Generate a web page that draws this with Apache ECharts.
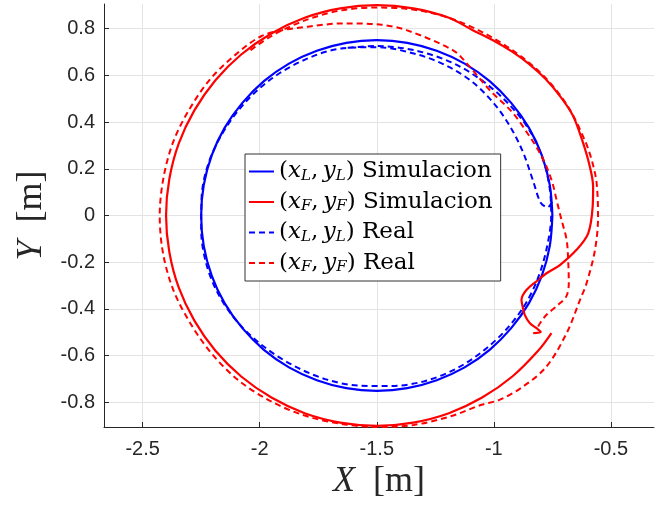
<!DOCTYPE html>
<html><head><meta charset="utf-8">
<script src="https://cdn.jsdelivr.net/npm/echarts@6/dist/echarts.min.js"></script>
<style>html,body{margin:0;padding:0;background:#fff}#c{width:658px;height:506px}</style>
</head><body><div id="c"></div>
<script>
// axis ticks
const xTicks = [-2.5, -2, -1.5, -1, -0.5];
const yTicks = [-0.8, -0.6, -0.4, -0.2, 0, 0.2, 0.4, 0.6, 0.8];
const xRange = [-2.665, -0.316];
const yRange = [-0.905, 0.905];

// (x_L, y_L) Simulacion
const leaderSim = [
  [-0.750,0.000],[-0.761,0.130],[-0.795,0.257],[-0.850,0.375],[-0.926,0.482],[-1.018,0.575],
  [-1.125,0.650],[-1.244,0.705],[-1.370,0.739],[-1.500,0.750],[-1.630,0.739],[-1.756,0.705],
  [-1.875,0.650],[-1.982,0.575],[-2.074,0.482],[-2.150,0.375],[-2.205,0.257],[-2.239,0.130],
  [-2.250,0.000],[-2.239,-0.130],[-2.205,-0.257],[-2.150,-0.375],[-2.074,-0.482],[-1.982,-0.575],
  [-1.875,-0.650],[-1.756,-0.705],[-1.630,-0.739],[-1.500,-0.750],[-1.370,-0.739],[-1.244,-0.705],
  [-1.125,-0.650],[-1.018,-0.575],[-0.926,-0.482],[-0.850,-0.375],[-0.795,-0.257],[-0.761,-0.130],
  [-0.750,0.000]
];

// (x_F, y_F) Simulacion
const followerSim = [
  [-0.832,-0.503],[-0.800,-0.498],[-0.818,-0.482],[-0.846,-0.461],[-0.868,-0.425],[-0.877,-0.390],
  [-0.882,-0.361],[-0.860,-0.318],[-0.811,-0.276],[-0.775,-0.247],[-0.718,-0.212],[-0.647,-0.147],
  [-0.597,-0.076],[-0.578,0.038],[-0.576,0.123],[-0.590,0.209],[-0.622,0.320],[-0.662,0.427],
  [-0.716,0.509],[-0.779,0.584],[-0.849,0.648],[-0.922,0.701],[-1.000,0.748],[-1.090,0.793],
  [-1.192,0.846],[-1.344,0.886],[-1.500,0.900],[-1.656,0.886],[-1.808,0.846],[-1.950,0.779],
  [-2.079,0.689],[-2.189,0.579],[-2.279,0.450],[-2.346,0.308],[-2.386,0.156],[-2.400,0.000],
  [-2.386,-0.156],[-2.346,-0.308],[-2.279,-0.450],[-2.189,-0.579],[-2.079,-0.689],[-1.950,-0.779],
  [-1.808,-0.846],[-1.656,-0.886],[-1.500,-0.900],[-1.344,-0.886],[-1.192,-0.846],[-1.050,-0.779],
  [-0.921,-0.689],[-0.811,-0.579],[-0.754,-0.503]
];

// (x_L, y_L) Real
const leaderReal = [
  [-0.752,0.058],[-0.769,0.036],[-0.799,0.053],[-0.833,0.150],[-0.875,0.270],[-0.930,0.380],
  [-1.000,0.480],[-1.090,0.570],[-1.200,0.640],[-1.330,0.690],[-1.500,0.720],[-1.650,0.715],
  [-1.800,0.670],[-1.950,0.585],[-2.070,0.475],[-2.160,0.350],[-2.220,0.220],[-2.248,0.080],
  [-2.250,-0.060],[-2.230,-0.200],[-2.180,-0.330],[-2.100,-0.450],[-1.990,-0.555],[-1.860,-0.640],
  [-1.720,-0.700],[-1.580,-0.728],[-1.450,-0.730],[-1.300,-0.710],[-1.160,-0.655],[-1.040,-0.575],
  [-0.940,-0.480],[-0.860,-0.370],[-0.805,-0.250],[-0.770,-0.120],[-0.755,0.000],[-0.762,0.120],
  [-0.790,0.240],[-0.845,0.360],[-0.930,0.470],[-1.040,0.570],[-1.170,0.650],[-1.330,0.705],
  [-1.500,0.725],[-1.650,0.715]
];

// (x_F, y_F) Real
const followerReal = [
  [-0.811,-0.475],[-0.803,-0.461],[-0.775,-0.425],[-0.725,-0.382],[-0.690,-0.345],[-0.680,-0.290],
  [-0.682,-0.204],[-0.689,-0.105],[-0.711,-0.019],[-0.732,0.066],[-0.750,0.140],[-0.775,0.209],
  [-0.805,0.270],[-0.845,0.335],[-0.920,0.440],[-1.017,0.536],[-1.115,0.650],[-1.174,0.707],
  [-1.373,0.793],[-1.487,0.817],[-1.645,0.822],[-1.794,0.808],[-1.904,0.793],[-1.994,0.767],
  [-2.088,0.701],[-2.205,0.591],[-2.297,0.460],[-2.369,0.316],[-2.411,0.161],[-2.427,0.000],
  [-2.413,-0.161],[-2.370,-0.316],[-2.297,-0.460],[-2.205,-0.591],[-2.091,-0.705],[-1.958,-0.792],
  [-1.811,-0.855],[-1.657,-0.891],[-1.500,-0.905],[-1.342,-0.896],[-1.187,-0.860],[-1.053,-0.810],
  [-0.974,-0.788],[-0.875,-0.732],[-0.775,-0.646],[-0.689,-0.503],[-0.632,-0.361],[-0.604,-0.290],
  [-0.568,-0.147],[-0.555,-0.006],[-0.561,0.138],[-0.580,0.230],[-0.612,0.323],[-0.686,0.470],
  [-0.788,0.598],[-0.912,0.701],[-1.048,0.784],[-1.192,0.846],[-1.345,0.881],[-1.500,0.890],
  [-1.655,0.877],[-1.804,0.836],[-1.945,0.771],[-2.048,0.701]
];

const legendRich = [
  '{p|(}{i|x}{s|L}{p|,\u2009}{i|y}{s|L}{p|) Simulacion}',
  '{p|(}{i|x}{s|F}{p|,\u2009}{i|y}{s|F}{p|) Simulacion}',
  '{p|(}{i|x}{s|L}{p|,\u2009}{i|y}{s|L}{p|) Real}',
  '{p|(}{i|x}{s|F}{p|,\u2009}{i|y}{s|F}{p|) Real}'
];
const seriesNames = ['(x_L, y_L) Simulacion', '(x_F, y_F) Simulacion', '(x_L, y_L) Real', '(x_F, y_F) Real'];

const serif = 'Liberation Serif';
const legendFont = 'DejaVu Serif';
const sans = 'Liberation Sans';
const axisCol = '#262626';
const gridCol = '#e3e3e3';

function mkSeries(name, data, color, dashed) {
  return {
    name: name, type: 'line', data: data, showSymbol: false, symbol: 'none',
    smooth: 0.33, animation: false,
    lineStyle: { color: color, width: dashed ? 2 : 2.2, type: dashed ? [6, 4] : 'solid' },
    itemStyle: { color: color }
  };
}

const chart = echarts.init(document.getElementById('c'));
chart.setOption({
  animation: false,
  backgroundColor: '#ffffff',
  grid: { left: 104, right: 4, top: 4, bottom: 79, containLabel: false },
  xAxis: {
    type: 'value', min: xRange[0], max: xRange[1],
    axisLine: { show: true, onZero: false, lineStyle: { color: axisCol, width: 1 } },
    axisTick: { show: true, inside: true, length: 5, customValues: xTicks, lineStyle: { color: axisCol } },
    axisLabel: { customValues: xTicks, margin: 12, color: axisCol, fontFamily: sans, fontSize: 20 },
    splitLine: { show: true, lineStyle: { color: gridCol, width: 1 } },
    name: '{i|X}{n|  [m]}', nameLocation: 'middle', nameGap: 36,
    nameTextStyle: { rich: {
      i: { fontFamily: serif, fontStyle: 'italic', fontSize: 36, color: axisCol },
      n: { fontFamily: serif, fontSize: 36, color: axisCol } } }
  },
  yAxis: {
    type: 'value', min: yRange[0], max: yRange[1],
    axisLine: { show: true, onZero: false, lineStyle: { color: axisCol, width: 1 } },
    axisTick: { show: true, inside: true, length: 5, customValues: yTicks, lineStyle: { color: axisCol } },
    axisLabel: { customValues: yTicks, margin: 9, color: axisCol, fontFamily: sans, fontSize: 20 },
    splitLine: { show: true, lineStyle: { color: gridCol, width: 1 } },
    name: '{i|Y}{n|  [m]}', nameLocation: 'middle', nameGap: 52,
    nameTextStyle: { rich: {
      i: { fontFamily: serif, fontStyle: 'italic', fontSize: 36, color: axisCol },
      n: { fontFamily: serif, fontSize: 36, color: axisCol } } }
  },
  legend: {
    orient: 'vertical', left: 245, top: 154,
    backgroundColor: '#ffffff', borderColor: '#333333', borderWidth: 1, borderRadius: 0,
    padding: [6, 8, 6, 3], itemGap: 7, itemWidth: 25, itemHeight: 14,
    itemStyle: { opacity: 0 },
    data: seriesNames,
    formatter: function (name) { return legendRich[seriesNames.indexOf(name)]; },
    textStyle: {
      color: '#000',
      rich: {
        p: { fontFamily: legendFont, fontSize: 23, lineHeight: 24, color: '#000' },
        i: { fontFamily: legendFont, fontStyle: 'italic', fontSize: 23, lineHeight: 24, color: '#000' },
        s: { fontFamily: legendFont, fontStyle: 'italic', fontSize: 15, lineHeight: 15, verticalAlign: 'bottom', color: '#000' }
      }
    }
  },
  series: [
    mkSeries(seriesNames[0], leaderSim, '#0000ff', false),
    mkSeries(seriesNames[1], followerSim, '#ff0000', false),
    mkSeries(seriesNames[2], leaderReal, '#0000ff', true),
    mkSeries(seriesNames[3], followerReal, '#ff0000', true)
  ]
});
</script>
</body></html>
